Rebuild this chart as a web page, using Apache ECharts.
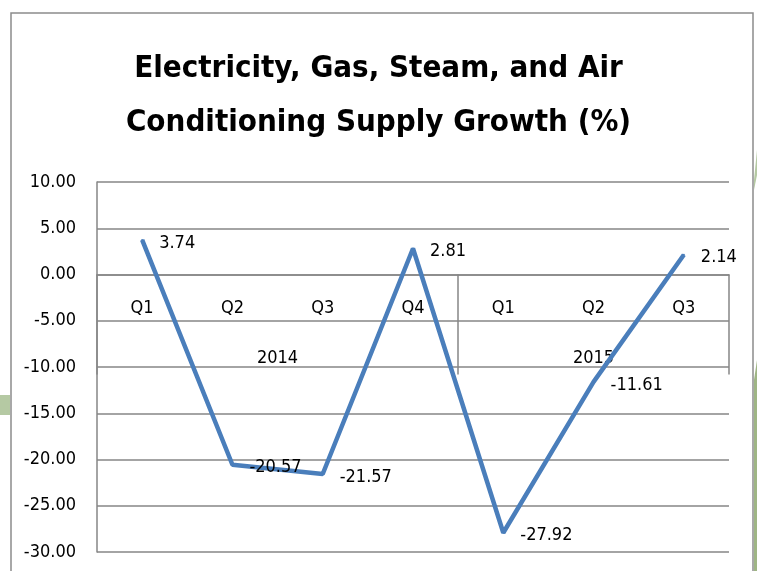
<!DOCTYPE html>
<html>
<head>
<meta charset="utf-8">
<script src="https://cdn.jsdelivr.net/npm/echarts@6/dist/echarts.min.js"></script>
<style>
    html, body { margin: 0; padding: 0; background: #fff; }
    #chart { width: 757px; height: 571px; }
</style>
</head>
<body>
<div id="chart"></div>
<script>
// quarters and growth values (%)
const quarters = ['Q1', 'Q2', 'Q3', 'Q4', 'Q1', 'Q2', 'Q3'];
const growth = [3.74, -20.57, -21.57, 2.81, -27.92, -11.61, 2.14];
// year groups: name, first category index, category count
const years = ['2014', '2015'];
const yearStart = [0, 4];
const yearSize = [4, 3];

const yMin = -30;
const yMax = 10;

const FONT = '"DejaVu Sans Condensed", sans-serif';
const GREY = '#868686';

// boundaries and centres of the year groups, in category units
let yearTicks = [0];
let yearCentres = [];
years.forEach((y, i) => {
    yearTicks.push(yearStart[i] + yearSize[i]);
    yearCentres.push(yearStart[i] + yearSize[i] / 2);
});

const gridTop = 182;
const gridBottom = 19;
const gridHeight = 571 - gridTop - gridBottom;
// both category axes sit on y = 0 (negative offset lifts them from the bottom)
const zeroOffset = -gridHeight * (0 - yMin) / (yMax - yMin);

const chart = echarts.init(document.getElementById('chart'));

chart.setOption({
    animation: false,
    title: {
        text: 'Electricity, Gas, Steam, and Air\nConditioning Supply Growth (%)',
        left: 'center',
        top: 37,
        textStyle: {
            fontFamily: FONT,
            fontWeight: 'bold',
            fontSize: 31,
            lineHeight: 54,
            color: '#000'
        }
    },
    graphic: [
        {
            type: 'rect',
            shape: { x: 11, y: 13, width: 742, height: 600 },
            style: { fill: null, stroke: '#8c8c8c', lineWidth: 1.5 },
            z: 1
        },
        {
            type: 'rect',
            shape: { x: 0, y: 395, width: 10, height: 20 },
            style: { fill: '#b5c9a3' }
        },
        {
            type: 'polygon',
            shape: { points: [[754, 180], [757, 150], [757, 175], [754, 190]] },
            style: { fill: '#b5c9a3' }
        },
        {
            type: 'polygon',
            shape: { points: [[754, 380], [757, 360], [757, 571], [754, 571]] },
            style: { fill: '#9fb585' }
        }
    ],
    grid: {
        left: 97,
        right: 28,
        top: gridTop,
        bottom: gridBottom,
        containLabel: false,
        outerBoundsMode: 'none'
    },
    xAxis: [
        {
            type: 'category',
            data: quarters,
            boundaryGap: true,
            position: 'bottom',
            offset: zeroOffset,
            axisLine: { show: true, onZero: false, lineStyle: { color: GREY, width: 1.5 } },
            axisTick: { show: false },
            axisLabel: {
                margin: 25,
                fontFamily: FONT,
                fontSize: 18,
                color: '#000'
            }
        },
        {
            type: 'value',
            min: 0,
            max: quarters.length,
            position: 'bottom',
            offset: zeroOffset,
            axisLine: { show: false, onZero: false },
            splitLine: { show: false },
            axisTick: {
                show: true,
                customValues: yearTicks,
                length: 100,
                lineStyle: { color: GREY, width: 1.5 }
            },
            axisLabel: {
                customValues: yearCentres,
                formatter: v => years[yearCentres.indexOf(v)],
                margin: 75,
                fontFamily: FONT,
                fontSize: 18,
                color: '#000'
            }
        }
    ],
    yAxis: {
        type: 'value',
        min: yMin,
        max: yMax,
        interval: 5,
        axisLine: { show: true, onZero: false, lineStyle: { color: GREY, width: 1.5 } },
        axisTick: { show: false },
        splitLine: { lineStyle: { color: GREY, width: 1.5 } },
        axisLabel: {
            margin: 21,
            fontFamily: FONT,
            fontSize: 18,
            color: '#000',
            formatter: v => v.toFixed(2)
        }
    },
    series: [
        {
            type: 'line',
            data: growth,
            xAxisIndex: 0,
            symbol: 'circle',
            symbolSize: 2,
            itemStyle: { color: '#4a7ebb' },
            lineStyle: { color: '#4a7ebb', width: 4.5 },
            label: {
                show: true,
                position: 'right',
                distance: 16,
                offset: [0, 3],
                fontFamily: FONT,
                fontSize: 18,
                color: '#000',
                formatter: p => p.value.toFixed(2)
            },
            z: 3
        }
    ]
});
</script>
</body>
</html>
